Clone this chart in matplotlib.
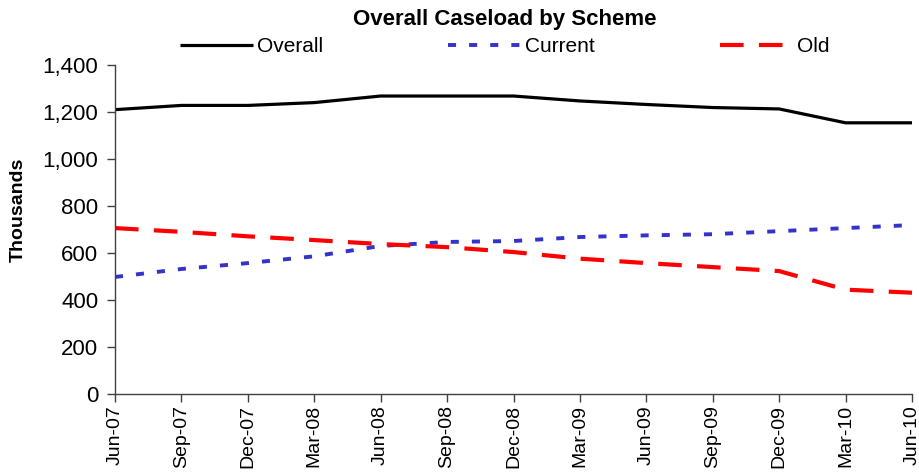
import numpy as np
import matplotlib
matplotlib.use("Agg")
import matplotlib.pyplot as plt

# =========================
# Dados (milhares)
# =========================
quarters = ["Jun-07", "Sep-07", "Dec-07", "Mar-08", "Jun-08", "Sep-08", "Dec-08",
            "Mar-09", "Jun-09", "Sep-09", "Dec-09", "Mar-10", "Jun-10"]
overall = [1210, 1228, 1228, 1240, 1268, 1268, 1268, 1247, 1232, 1219, 1213, 1154, 1154]
current = [498, 532, 557, 586, 630, 647, 651, 668, 675, 680, 693, 706, 719]
old = [706, 690, 671, 655, 638, 625, 604, 576, 557, 540, 523, 444, 431]

plt.rcParams['font.family'] = ['Liberation Sans', 'DejaVu Sans']
plt.rcParams['lines.scale_dashes'] = False

fig = plt.figure(figsize=(9.19, 4.74), dpi=100)
ax = fig.add_axes([115 / 919, 1 - 394 / 474, (912 - 115) / 919, (394 - 65) / 474])

x = np.arange(len(quarters))
ax.plot(x, overall, color='black', lw=2.3, label='Overall', solid_capstyle='butt')
ax.plot(x, current, color='#3333CC', lw=2.8, dashes=(5.8, 9.4), label='Current',
        dash_capstyle='butt')
ax.plot(x, old, color='#FF0000', lw=3.0, dashes=(17, 11), label='Old',
        dash_capstyle='butt')

ax.set_xlim(0, len(quarters) - 1)
ax.set_ylim(0, 1400)
ax.set_yticks(range(0, 1401, 200))
ax.yaxis.set_major_formatter(matplotlib.ticker.FuncFormatter(lambda v, p: f"{int(v):,}"))
ax.set_xticks(x)
ax.set_xticklabels(quarters, rotation=90, fontsize=14)
ax.tick_params(axis='y', labelsize=16, length=6, width=1, color='#404040', pad=6)
ax.tick_params(axis='x', length=6, width=1, color='#404040', pad=2)

for s in ['top', 'right']:
    ax.spines[s].set_visible(False)
for s in ['left', 'bottom']:
    ax.spines[s].set_color('#404040')
    ax.spines[s].set_linewidth(1)

fig.text(18 / 919, 1 - 210 / 474, "Thousands", rotation=90, fontsize=14,
         fontweight='bold', ha='center', va='center')
fig.text(505 / 919, 1 - 20 / 474, "Overall Caseload by Scheme", fontsize=16,
         fontweight='bold', ha='center', va='center')

fig.legend(loc='center left', bbox_to_anchor=(180 / 919, 1 - 47 / 474), ncol=3,
           frameon=False, fontsize=15, handlelength=3.5, handletextpad=0.2,
           columnspacing=6.0, borderpad=0, borderaxespad=0)

plt.savefig("out.png", dpi=100)
plt.close()
